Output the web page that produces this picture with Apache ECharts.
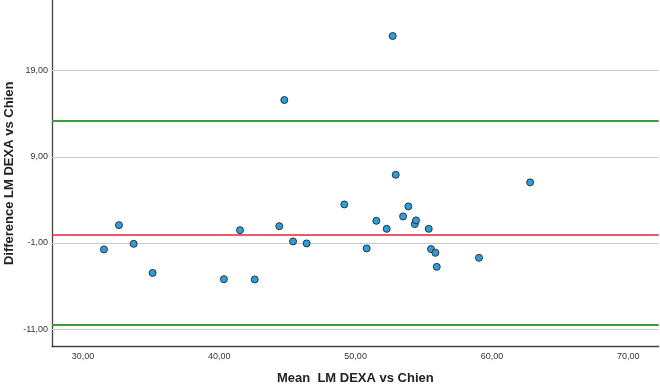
<!DOCTYPE html>
<html>
<head>
<meta charset="utf-8">
<script src="https://cdn.jsdelivr.net/npm/echarts@6/dist/echarts.min.js"></script>
<style>html,body{margin:0;padding:0;background:#fff}#c{width:660px;height:385px}</style>
</head>
<body>
<div id="c"></div>
<script>
// Data
const meanValues = [31.54,32.64,33.72,35.11,40.34,41.52,42.60,44.40,44.77,45.41,46.41,49.17,50.81,51.52,52.28,52.72,52.94,53.48,53.87,54.34,54.43,55.36,55.53,55.85,55.95,59.05,62.80];
const diffValues = [-1.75,1.07,-1.10,-4.47,-5.20,0.49,-5.23,0.95,15.58,-0.82,-1.05,3.47,-1.63,1.57,0.64,23.0,6.91,2.08,3.24,1.19,1.62,0.64,-1.71,-2.14,-3.77,-2.72,6.03];
const xTicks = [30,40,50,60,70];
const yTicks = [-11,-1,9,19];
const meanLine = [0.0];
const limitLines = [13.15,-10.5];

const fmt = v => v.toFixed(2).replace('.', ',');
const font = 'Arial, "Liberation Sans", sans-serif';

const chart = echarts.init(document.getElementById('c'), null, {renderer:'canvas'});
chart.setOption({
  animation:false,
  backgroundColor:'#fff',
  grid:{left:52, top:0, right:1.3, bottom:38.3, containLabel:false, outerBoundsMode:'none'},
  xAxis:{
    type:'value', min:27.73, max:72.23,
    name:'Mean  LM DEXA vs Chien', nameLocation:'middle', nameGap:25, nameMoveOverlap:false,
    nameTextStyle:{fontFamily:font, fontSize:13, fontWeight:'bold', color:'#222'},
    axisLine:{show:true, onZero:false, lineStyle:{color:'#444', width:1.3}},
    axisTick:{show:false},
    splitLine:{show:false},
    axisLabel:{customValues:xTicks, formatter:fmt, fontFamily:font, fontSize:9, color:'#333', margin:5}
  },
  yAxis:{
    type:'value', min:-13.03, max:27.18,
    name:'Difference LM DEXA vs Chien', nameLocation:'middle', nameGap:36, nameRotate:90, nameMoveOverlap:false,
    nameTextStyle:{fontFamily:font, fontSize:13, fontWeight:'bold', color:'#222'},
    axisLine:{show:true, onZero:false, lineStyle:{color:'#444', width:1.3}},
    axisTick:{show:false},
    splitLine:{show:false},
    axisLabel:{customValues:yTicks, formatter:fmt, fontFamily:font, fontSize:9, color:'#333', margin:4}
  },
  series:[
    {
      type:'line', data:[], z:1, silent:true,
      markLine:{symbol:'none', silent:true, label:{show:false},
        lineStyle:{color:'#cccccc', width:1.2, type:'solid'},
        data: yTicks.map(v=>({yAxis:v}))}
    },
    {
      type:'line', data:[], z:2, silent:true,
      markLine:{symbol:'none', silent:true, label:{show:false},
        data: meanLine.map(v=>({yAxis:v, lineStyle:{color:'#e8213c', width:1.6, type:'solid'}}))
          .concat(limitLines.map(v=>({yAxis:v, lineStyle:{color:'#3d9a3d', width:1.8, type:'solid'}})))}
    },
    {
      type:'scatter', z:5,
      data: meanValues.map((x,i)=>[x, diffValues[i]]),
      symbol:'circle', symbolSize:7,
      itemStyle:{color:'#2a9fe0', borderColor:'#333', borderWidth:1, opacity:1}
    }
  ]
});
</script>
</body>
</html>
